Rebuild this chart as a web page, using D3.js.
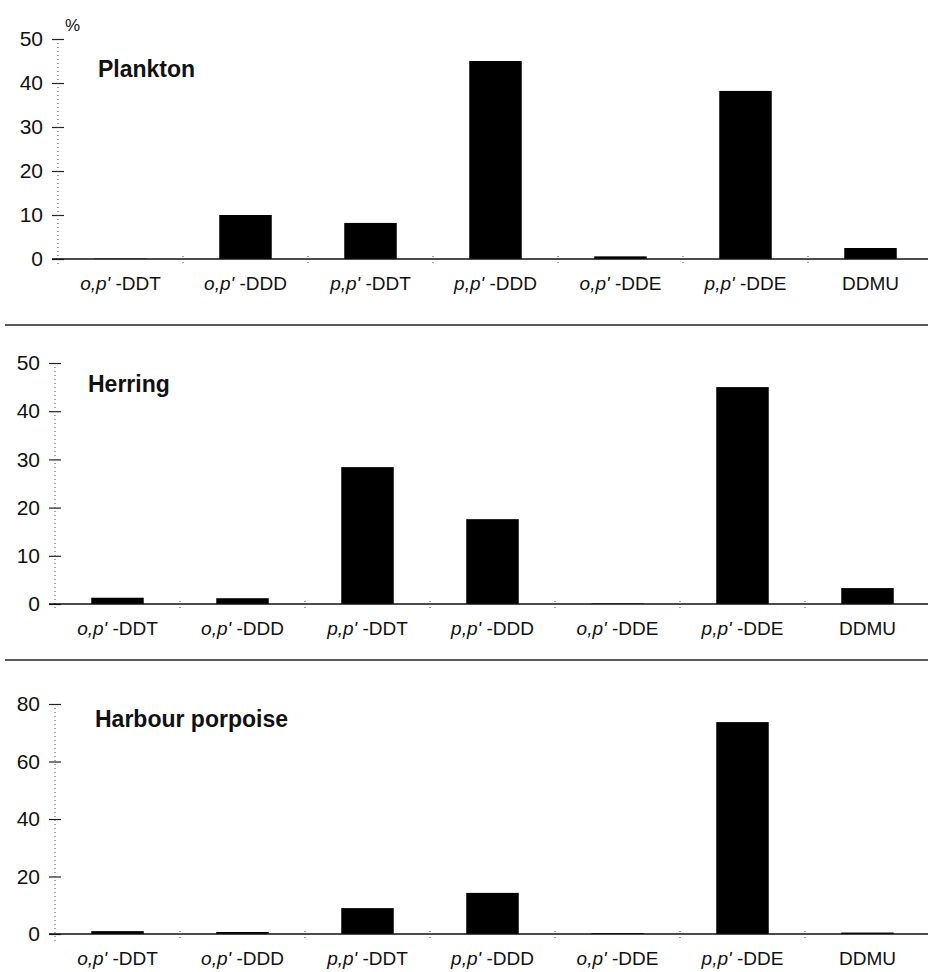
<!DOCTYPE html>
<html>
<head>
<meta charset="utf-8">
<script src="https://cdn.jsdelivr.net/npm/d3@7"></script>
<style>
  body { margin: 0; background: #fff; }
  text { font-family: Arial, "Liberation Sans", sans-serif; fill: #111; }
</style>
</head>
<body>
<div id="chart"></div>
<script>
// data (% of total DDT compounds)
var categories = ["o,p'-DDT", "o,p'-DDD", "p,p'-DDT", "p,p'-DDD", "o,p'-DDE", "p,p'-DDE", "DDMU"];
var panelNames = ["Plankton", "Herring", "Harbour porpoise"];
var planktonValues = [0.1, 10, 8.2, 45, 0.6, 38.2, 2.5];
var herringValues = [1.3, 1.2, 28.4, 17.6, 0.1, 45, 3.3];
var porpoiseValues = [1.0, 0.7, 9.0, 14.3, 0.3, 73.7, 0.5];
var planktonTicks = [0, 10, 20, 30, 40, 50];
var herringTicks = [0, 10, 20, 30, 40, 50];
var porpoiseTicks = [0, 20, 40, 60, 80];

var width = 928, height = 972;
var bandStep = 125;

// layout of each panel
var panels = [
  { name: panelNames[0], values: planktonValues, ticks: planktonTicks, x0: 58, yTop: 39, yZero: 259, titleX: 98, titleY: 77 },
  { name: panelNames[1], values: herringValues, ticks: herringTicks, x0: 55, yTop: 363, yZero: 604, titleX: 88, titleY: 392 },
  { name: panelNames[2], values: porpoiseValues, ticks: porpoiseTicks, x0: 55, yTop: 704, yZero: 934, titleX: 95, titleY: 727 }
];

var svg = d3.select("#chart").append("svg")
    .attr("width", width)
    .attr("height", height);

// separators between panels
[325, 660].forEach(function(yy) {
  svg.append("line")
      .attr("x1", 5).attr("x2", width)
      .attr("y1", yy).attr("y2", yy)
      .attr("stroke", "#222")
      .attr("stroke-width", 1.4);
});

// % label on the first axis
svg.append("text")
    .attr("x", 65).attr("y", 31)
    .style("font-size", "17px")
    .text("%");

panels.forEach(function(p) {
  var x = d3.scaleBand()
      .domain(categories)
      .range([p.x0, p.x0 + bandStep * categories.length])
      .padding(0);

  var y = d3.scaleLinear()
      .domain([0, d3.max(p.ticks)])
      .range([p.yZero, p.yTop]);

  var g = svg.append("g");

  // bars
  var bw = x.bandwidth() * 0.42;
  g.selectAll("rect.bar")
      .data(p.values)
    .enter().append("rect")
      .attr("class", "bar")
      .attr("x", function(d, i) { return x(categories[i]) + (x.bandwidth() - bw) / 2; })
      .attr("width", bw)
      .attr("y", function(d) { return y(d); })
      .attr("height", function(d) { return y(0) - y(d); })
      .attr("fill", "#000");

  // y axis
  var yAxis = g.append("g")
      .attr("transform", "translate(" + p.x0 + ",0)")
      .call(d3.axisLeft(y).tickValues(p.ticks).tickSize(6).tickPadding(9));
  yAxis.select(".domain").remove();
  yAxis.selectAll(".tick line")
      .attr("x1", -6).attr("x2", 6)
      .attr("stroke", "#222").attr("stroke-width", 1.2);
  yAxis.selectAll(".tick text")
      .style("font-size", "21px")
      .style("font-family", "Arial, 'Liberation Sans', sans-serif")
      .attr("fill", "#111");
  yAxis.append("line")
      .attr("x1", 0).attr("x2", 0)
      .attr("y1", y.range()[1] + 4).attr("y2", y(0) + 7)
      .attr("stroke", "#444")
      .attr("stroke-width", 1)
      .attr("stroke-dasharray", "1,3");

  // x axis baseline with small boundary marks
  g.append("line")
      .attr("x1", p.x0 - 6).attr("x2", width)
      .attr("y1", y(0)).attr("y2", y(0))
      .attr("stroke", "#111")
      .attr("stroke-width", 1.5);
  g.selectAll("line.bound")
      .data(categories.slice(1))
    .enter().append("line")
      .attr("class", "bound")
      .attr("x1", function(c) { return x(c); })
      .attr("x2", function(c) { return x(c); })
      .attr("y1", y(0) - 3).attr("y2", y(0) + 5)
      .attr("stroke", "#444")
      .attr("stroke-width", 1)
      .attr("stroke-dasharray", "1,2");

  // category labels, italic prefix
  var lab = g.selectAll("text.cat")
      .data(categories)
    .enter().append("text")
      .attr("class", "cat")
      .attr("x", function(c) { return x(c) + x.bandwidth() / 2; })
      .attr("y", y(0) + 31)
      .attr("text-anchor", "middle")
      .style("font-size", "19px");
  lab.each(function(c) {
    var t = d3.select(this);
    var k = c.indexOf("-");
    if (k < 0) { t.text(c); return; }
    t.append("tspan").style("font-style", "italic").text(c.slice(0, k));
    t.append("tspan").text(" " + c.slice(k));
  });

  // panel title
  g.append("text")
      .attr("x", p.titleX).attr("y", p.titleY)
      .style("font-size", "23px")
      .style("font-weight", "bold")
      .text(p.name);
});
</script>
</body>
</html>
